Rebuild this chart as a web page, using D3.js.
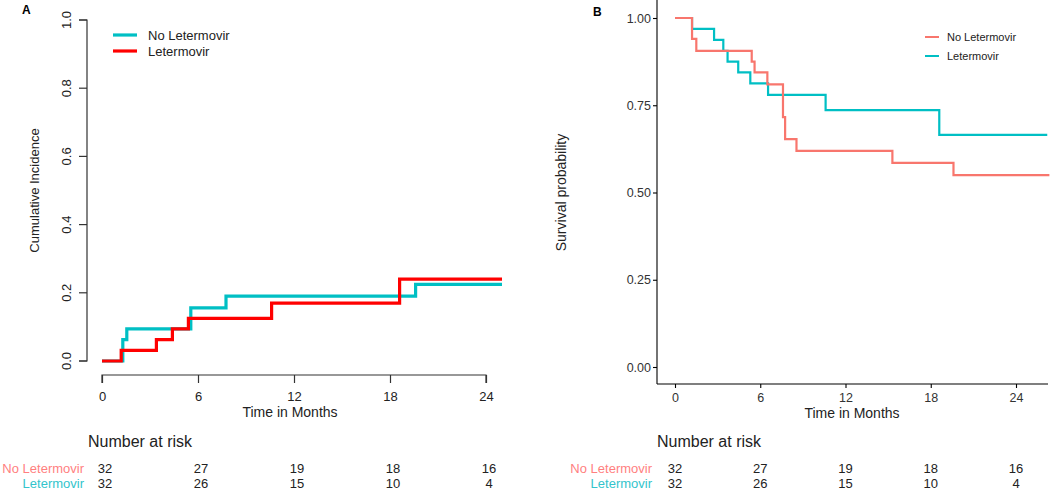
<!DOCTYPE html>
<html>
<head>
<meta charset="utf-8">
<script src="https://cdn.jsdelivr.net/npm/d3@7"></script>
<style>
  html, body { margin: 0; padding: 0; background: #fff; }
  svg { display: block; font-family: "Liberation Sans", Arial, sans-serif; }
</style>
</head>
<body>
<svg id="chart" width="1050" height="491"></svg>
<script>
// Panel A: cumulative incidence, panel B: Kaplan-Meier survival.
// Values.

const groups = ['No Letermovir', 'Letermovir'];
const timeTicks = [0, 6, 12, 18, 24];

// panel A -- step functions (time in months, cumulative incidence)
const ciNoLetTimes  = [0, 1.3, 1.55, 5.55, 7.75, 19.6, 25];
const ciNoLetValues = [0, 0.0625, 0.094, 0.156, 0.19, 0.225, 0.225];
const ciLetTimes    = [0, 1.2, 3.4, 4.4, 5.4, 10.6, 18.6, 25];
const ciLetValues   = [0, 0.031, 0.0625, 0.094, 0.125, 0.17, 0.24, 0.24];
const ciTicks = [0, 0.2, 0.4, 0.6, 0.8, 1.0];

// panel B -- survival probability
const kmNoLetTimes  = [0, 1.2, 1.5, 5.4, 5.6, 6.5, 7.6, 7.75, 8.55, 15.3, 19.6, 26.35];
const kmNoLetValues = [1, 0.94, 0.906, 0.875, 0.844, 0.81, 0.716, 0.653, 0.619, 0.585, 0.55, 0.55];
const kmLetTimes    = [0, 1.2, 2.75, 3.4, 3.7, 4.45, 5.3, 6.55, 10.6, 18.6, 26.2];
const kmLetValues   = [1, 0.969, 0.9375, 0.906, 0.875, 0.844, 0.8125, 0.78, 0.736, 0.665, 0.665];
const kmTicks = [0, 0.25, 0.5, 0.75, 1.0];

// number at risk
const noLetRisk = [32, 27, 19, 18, 16];
const letRisk   = [32, 26, 15, 10, 4];

const zip = (ts, vs) => ts.map((t, i) => ({ t, v: vs[i] }));

const svg = d3.select('#chart');

// ---------- panel A (base-R look) ----------
const xA = d3.scaleLinear().domain([0, 24]).range([102, 486]);
const yA = d3.scaleLinear().domain([0, 1]).range([361, 20]);
const colA = { 'No Letermovir': '#00BFC4', 'Letermovir': '#FF0000' };

const gA = svg.append('g');

const axA = gA.append('g').attr('transform', 'translate(87,0)')
  .call(d3.axisLeft(yA).tickValues(ciTicks).tickSize(8).tickFormat(d3.format('.1f')));
axA.select('.domain').attr('d', `M-8,${yA(0)}H0V${yA(1)}H-8`);
axA.selectAll('line, path').attr('stroke', '#333').attr('stroke-width', 1.2);
axA.selectAll('text')
  .attr('transform', (d) => `translate(-16,${yA(d)}) rotate(-90)`)
  .attr('x', 0).attr('dy', 0).attr('y', 0)
  .attr('text-anchor', 'middle')
  .style('font-size', '13px').attr('fill', '#222');
axA.selectAll('.tick').attr('transform', null);
axA.selectAll('.tick line').attr('transform', (d) => `translate(0,${yA(d)})`);

const axAx = gA.append('g').attr('transform', 'translate(0,375)')
  .call(d3.axisBottom(xA).tickValues(timeTicks).tickSize(8));
axAx.select('.domain').attr('d', `M${xA(0)},8V0H${xA(24)}V8`);
axAx.selectAll('line, path').attr('stroke', '#333').attr('stroke-width', 1.2);
axAx.selectAll('text').attr('y', 17).style('font-size', '13px').attr('fill', '#222');

gA.append('text').attr('x', 290).attr('y', 417).attr('text-anchor', 'middle')
  .style('font-size', '14px').attr('fill', '#222').text('Time in Months');
gA.append('text').attr('transform', `translate(39,${yA(0.5)}) rotate(-90)`)
  .attr('text-anchor', 'middle').style('font-size', '13px').attr('fill', '#222')
  .text('Cumulative Incidence');
gA.append('text').attr('x', 22).attr('y', 14).style('font-size', '12px')
  .style('font-weight', 'bold').text('A');

const lineA = d3.line().curve(d3.curveStepAfter).x((d) => xA(d.t)).y((d) => yA(d.v));
const seriesA = [
  { name: 'No Letermovir', pts: zip(ciNoLetTimes, ciNoLetValues) },
  { name: 'Letermovir', pts: zip(ciLetTimes, ciLetValues) },
];
gA.selectAll('path.curve').data(seriesA).join('path').attr('class', 'curve')
  .attr('d', (s) => lineA(s.pts)).attr('fill', 'none')
  .attr('stroke', (s) => colA[s.name]).attr('stroke-width', 3.2);

const legA = gA.selectAll('g.leg').data(groups).join('g').attr('class', 'leg')
  .attr('transform', (d, i) => `translate(113,${35 + i * 16})`);
legA.append('line').attr('x1', 0).attr('x2', 24)
  .attr('stroke', (d) => colA[d]).attr('stroke-width', 3.2);
legA.append('text').attr('x', 35).attr('dy', '0.35em').style('font-size', '13px')
  .attr('fill', '#222').text((d) => d);

// ---------- panel B (ggplot look) ----------
const xB = d3.scaleLinear().domain([0, 24]).range([675, 1016]);
const yB = d3.scaleLinear().domain([0, 1]).range([367, 18]);
const colB = { 'No Letermovir': '#F8766D', 'Letermovir': '#00BFC4' };

const gB = svg.append('g');

const lineB = d3.line().curve(d3.curveStepAfter).x((d) => xB(d.t)).y((d) => yB(d.v));
const seriesB = [
  { name: 'Letermovir', pts: zip(kmLetTimes, kmLetValues) },
  { name: 'No Letermovir', pts: zip(kmNoLetTimes, kmNoLetValues) },
];
gB.selectAll('path.curve').data(seriesB).join('path').attr('class', 'curve')
  .attr('d', (s) => lineB(s.pts)).attr('fill', 'none')
  .attr('stroke', (s) => colB[s.name]).attr('stroke-width', 2.2);

const axB = gB.append('g').attr('transform', 'translate(657,0)')
  .call(d3.axisLeft(yB).tickValues(kmTicks).tickSize(4).tickFormat(d3.format('.2f')));
axB.select('.domain').attr('d', 'M0,0V384');
axB.selectAll('line, path').attr('stroke', '#000').attr('stroke-width', 1.1);
axB.selectAll('text').attr('x', -6).style('font-size', '12.5px').attr('fill', '#333');

const axBx = gB.append('g').attr('transform', 'translate(0,384)')
  .call(d3.axisBottom(xB).tickValues(timeTicks).tickSize(4));
axBx.select('.domain').attr('d', 'M657,0H1048');
axBx.selectAll('line, path').attr('stroke', '#000').attr('stroke-width', 1.1);
axBx.selectAll('text').attr('y', 9).style('font-size', '12.5px').attr('fill', '#333');

gB.append('text').attr('x', 852).attr('y', 418).attr('text-anchor', 'middle')
  .style('font-size', '14px').attr('fill', '#222').text('Time in Months');
gB.append('text').attr('transform', `translate(566,${yB(0.5)}) rotate(-90)`)
  .attr('text-anchor', 'middle').style('font-size', '14px').attr('fill', '#222')
  .text('Survival probability');
gB.append('text').attr('x', 593).attr('y', 16).style('font-size', '12px')
  .style('font-weight', 'bold').text('B');

const legB = gB.selectAll('g.leg').data(groups).join('g').attr('class', 'leg')
  .attr('transform', (d, i) => `translate(925,${37 + i * 19})`);
legB.append('line').attr('x1', 0).attr('x2', 14)
  .attr('stroke', (d) => colB[d]).attr('stroke-width', 2);
legB.append('text').attr('x', 22).attr('dy', '0.35em').style('font-size', '11px')
  .attr('fill', '#222').text((d) => d);

// ---------- number at risk tables ----------
const riskRows = [
  { name: 'No Letermovir', vals: noLetRisk, color: '#FF7F7F' },
  { name: 'Letermovir', vals: letRisk, color: '#33C4CC' },
];

function riskTable(x, labelRight, titleX, dx) {
  const g = svg.append('g');
  g.append('text').attr('x', titleX).attr('y', 447).style('font-size', '16px')
    .attr('fill', '#222').text('Number at risk');
  riskRows.forEach((row, r) => {
    const y = 473 + r * 15;
    g.append('text').attr('x', labelRight).attr('y', y).attr('text-anchor', 'end')
      .style('font-size', '13px').attr('fill', row.color).text(row.name);
    g.selectAll(null).data(row.vals).join('text')
      .attr('x', (d, i) => x(timeTicks[i]) + dx).attr('y', y)
      .attr('text-anchor', 'middle').style('font-size', '13px').attr('fill', '#222')
      .text((d) => d);
  });
}
riskTable(xA, 84, 88, 3);
riskTable(xB, 652, 657, 0);
</script>
</body>
</html>
